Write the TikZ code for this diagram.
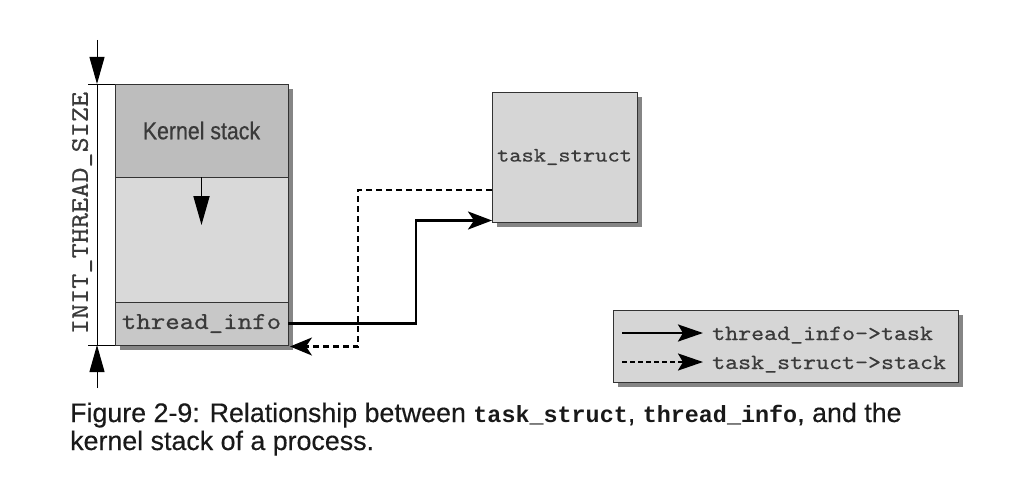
\documentclass[tikz,border=0pt]{standalone}
\usepackage{fontspec}
\setmainfont{Liberation Sans}[FakeBold=0.35]
\newfontfamily\capmono{Liberation Mono}
\newfontfamily\kfont{Liberation Sans}[FakeBold=0.6]
\newfontfamily\cmono{lmmono10-regular.otf}[FakeStretch=1.14,FakeBold=0.5]
\usetikzlibrary{arrows.meta}
\definecolor{ksgray}{HTML}{BDBDBD}
\definecolor{midgray}{HTML}{D9D9D9}
\definecolor{tigray}{HTML}{C8C8C8}
\definecolor{boxgray}{HTML}{D6D6D6}
\definecolor{shadowgray}{HTML}{858585}
\definecolor{edgegray}{HTML}{333333}
\definecolor{labelgray}{HTML}{3A3A3A}
\newcommand{\wmono}[2]{{\fontsize{#1}{#1}\selectfont\cmono #2}}
\begin{document}
\begin{tikzpicture}[x=1pt,y=-1pt,
  seg/.style={draw=edgegray, line width=1pt, minimum width=173pt, inner sep=0pt, outer sep=0pt, anchor=north west, text=labelgray},
  boxnode/.style={draw=edgegray, line width=1pt, fill=boxgray, inner sep=0pt, outer sep=0pt, anchor=north west, text=labelgray},
  conn/.style={line width=2.8pt, black, -{Stealth[length=24pt,width=18pt,inset=6pt]}},
  dconn/.style={line width=2.2pt, black, dash pattern=on 6pt off 4pt, -{Stealth[length=22pt,width=18pt,inset=6pt]}},
  legsolid/.style={line width=2.8pt, black, -{Stealth[length=25pt,width=17pt,inset=5pt]}},
  legdash/.style={line width=2.4pt, black, dash pattern=on 5pt off 3pt, -{Stealth[length=25pt,width=17pt,inset=5pt]}},
  dimline/.style={line width=1pt, black},
  dimarrow/.style={line width=1pt, black, -{Triangle[length=27pt,width=15pt]}},
  legtext/.style={anchor=base west, inner sep=0pt, text=labelgray},
  captext/.style={anchor=base west, inner sep=0pt, text=black!90, font=\fontsize{26.8}{33}\selectfont}
]
\useasboundingbox (0,0) rectangle (1011,495);

% kernel stack column
\fill[shadowgray] (120,89) rectangle (293,350);
\node[seg, fill=ksgray, minimum height=93pt] (ks) at (115,84)
  {\scalebox{0.87}[1]{\fontsize{24.5}{24.5}\selectfont\kfont Kernel stack}};
\node[seg, fill=midgray, minimum height=125pt] (mid) at (115,177) {};
\node[seg, fill=tigray, minimum height=43pt] (ti) at (115,302)
  {\wmono{24.2}{thread\_info}};
\coordinate (growend) at ([yshift=-48pt]mid.north);
\draw[line width=1.8pt, -{Triangle[length=29pt,width=16pt]}] (mid.north) -- (growend);

% dimension
\coordinate (dimtop) at (97,84);
\coordinate (dimbot) at (97,345);
\coordinate (dimtopstart) at (97,40);
\coordinate (dimbotstart) at (97,388);
\draw[dimline] (88,84) -- (ks.north west);
\draw[dimline] (88,345) -- (ti.south west);
\draw[dimline] (dimtop) -- (dimbot);
\draw[dimarrow] (dimtopstart) -- (dimtop);
\draw[dimarrow] (dimbotstart) -- (dimbot);
\node[rotate=90, inner sep=0pt, text=labelgray] (dimlabel) at (82,213)
  {\wmono{25.3}{INIT\_THREAD\_SIZE}};

% task_struct
\fill[shadowgray] (497,97) rectangle (642,227);
\node[boxnode, minimum width=145pt, minimum height=130pt] (ts) at (492,92)
  {\wmono{20.5}{task\_struct}};

% connectors
\coordinate (tsin) at ([yshift=1.5pt]ts.south west);
\coordinate (tsout) at ([yshift=32pt]ts.south west);
\coordinate (tiin) at ([xshift=2pt,yshift=-1.5pt]ti.south east);
\draw[conn] (ti.east) -- ++(128,0) |- (tsin);
\draw[dconn] (tsout) -- ++(-134,0) |- (tiin);

% legend
\fill[shadowgray] (618,315) rectangle (963,387);
\node[boxnode, minimum width=345pt, minimum height=72pt] (leg) at (613,310) {};
\coordinate (l1a) at (622,333);
\coordinate (l1b) at (703,333);
\coordinate (l2a) at (622,362);
\coordinate (l2b) at (703,362);
\draw[legsolid] (l1a) -- (l1b);
\draw[legdash] (l2a) -- (l2b);
\node[legtext] (lt1) at (712,340) {\wmono{21.7}{thread\_info->task}};
\node[legtext] (lt2) at (712,369) {\wmono{21.7}{task\_struct->stack}};

% caption
\node[captext] (cap1) at (70,422)
  {Figure 2-9: Relationship between {\capmono\bfseries\fontsize{23.4}{33}\selectfont task\_struct}, {\capmono\bfseries\fontsize{23.4}{33}\selectfont thread\_info}, and the};
\node[captext] (cap2) at (70,450) {kernel stack of a process.};
\end{tikzpicture}
\end{document}
